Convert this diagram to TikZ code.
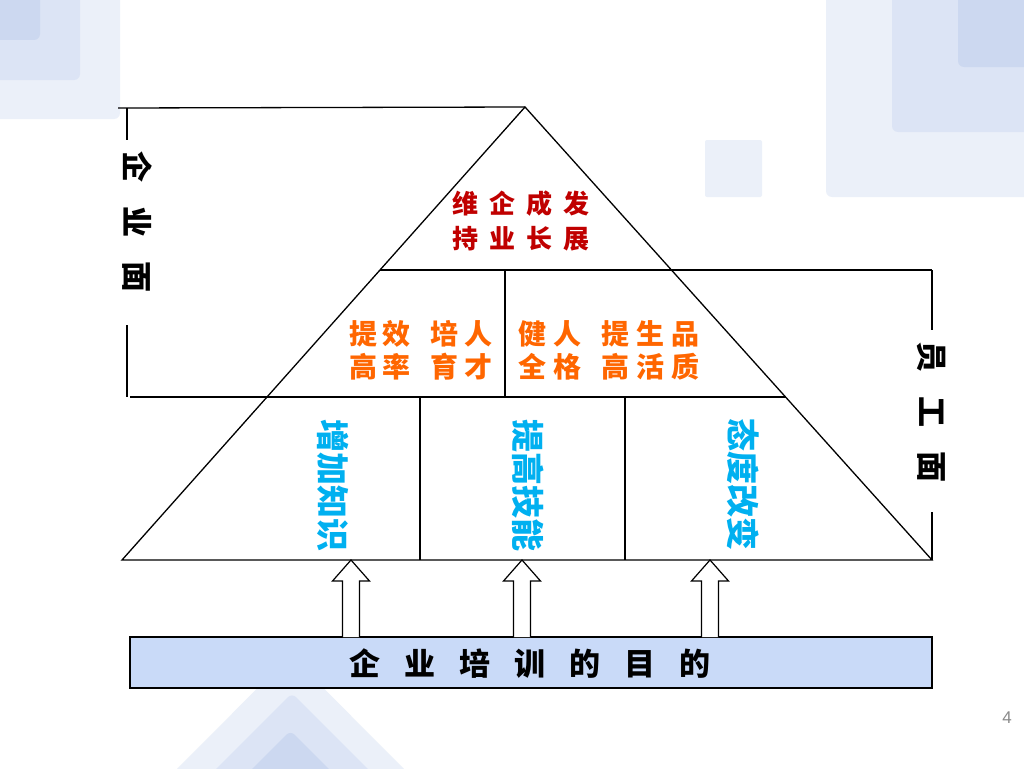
\documentclass[tikz,border=0pt]{standalone}
\usepackage{fontspec}
\newfontfamily\cjk{Noto Sans CJK SC}
\newfontfamily\pnfont{Liberation Sans}
\definecolor{cRed}{HTML}{C00000}
\definecolor{cOrange}{HTML}{FF6600}
\definecolor{cBlue}{HTML}{00B0F0}
\definecolor{cBox}{HTML}{C9DAF8}
\definecolor{bgA}{HTML}{EBF0F9}
\definecolor{bgB}{HTML}{DCE4F5}
\definecolor{bgC}{HTML}{CCD8F0}
\definecolor{pgGray}{HTML}{8A8A8A}
\begin{document}
\begin{tikzpicture}[x=1pt,y=-1pt,
  ln/.style={line width=1.3pt, black},
  deco/.style={draw=none, rounded corners=6pt},
  redtxt/.style={text=cRed, font=\cjk\bfseries\fontsize{26}{35}\selectfont, align=center, inner sep=0pt},
  orgtxt/.style={text=cOrange, font=\cjk\bfseries\fontsize{28}{33}\selectfont, align=center, inner sep=0pt},
  bluetxt/.style={text=cBlue, font=\cjk\bfseries\fontsize{33}{33}\selectfont, rotate=-90, inner sep=0pt},
  sidetxt/.style={text=black, font=\cjk\bfseries\fontsize{31}{31}\selectfont, rotate=-90, inner sep=0pt},
  boxtxt/.style={text=black, font=\cjk\bfseries\fontsize{31}{31}\selectfont, inner sep=0pt},
  hollow/.style={draw=black, line width=1.2pt, fill=white}
]
\useasboundingbox (0,0) rectangle (1024,768);
\fill[white] (0,0) rectangle (1024,768);

% background decorations
\fill[bgA, deco] (-10,-10) rectangle (120,119);
\fill[bgB, deco] (-10,-10) rectangle (80,80);
\fill[bgC, deco] (-10,-10) rectangle (40,40);
\fill[bgA, deco] (826,-10) rectangle (1034,197);
\fill[bgB, deco] (892,-10) rectangle (1034,132);
\fill[bgC, deco] (958,-10) rectangle (1034,67);
\fill[bgA, rounded corners=2pt] (705,140) rectangle (762,197);
\fill[bgA, rounded corners=6pt] (290.5,655) -- (415,780) -- (166,780) -- cycle;
\fill[bgB, rounded corners=6pt] (292,693) -- (380,781) -- (204,781) -- cycle;
\fill[bgC, rounded corners=6pt] (290.5,730.5) -- (341,781) -- (240,781) -- cycle;

% key points
\coordinate (apex) at (525,107);
\coordinate (bl) at (122,560);
\coordinate (br) at (932,560);
\coordinate (l1) at (380,270);
\coordinate (r1) at (671.4,270);
\coordinate (l2) at (267,397);
\coordinate (r2) at (785.5,397);

% triangle and rows
\draw[ln] (apex) -- (bl) -- (br) -- cycle;
\draw[ln] (l1) -- (932,270);
\draw[ln] (130,397) -- (r2);
\draw[ln] (505,270) -- (505,397);
\draw[ln] (420,397) -- (420,560);
\draw[ln] (625,397) -- (625,560);

% left bracket
\draw[ln] (118,108) -- (apex);
\draw[ln] (127,108) -- (127,140);
\draw[ln] (127,325) -- (127,397);
% right bracket
\draw[ln] (932,270) -- (932,330);
\draw[ln] (932,512) -- (br);

% texts
\node[redtxt] (top) at (521,221.5) {维\hspace{11pt}企\hspace{11pt}成\hspace{11pt}发\\持\hspace{11pt}业\hspace{11pt}长\hspace{11pt}展};
\node[orgtxt] (midL) at (421,350.5) {提\hspace{6pt}效\hspace{20pt}培\hspace{6pt}人\\高\hspace{6pt}率\hspace{20pt}育\hspace{6pt}才};
\node[orgtxt] (midR) at (608.5,350.5) {健\hspace{7pt}人\hspace{20pt}提\hspace{7pt}生\hspace{7pt}品\\全\hspace{7pt}格\hspace{20pt}高\hspace{7pt}活\hspace{7pt}质};
\node[bluetxt] (b1) at (333,485) {增加知识};
\node[bluetxt] (b2) at (528,485) {提高技能};
\node[bluetxt] (b3) at (743,484) {态度改变};
\node[sidetxt] (sideL) at (137,222) {企\hspace{24pt}业\hspace{24pt}面};
\node[sidetxt] (sideR) at (931,412) {员\hspace{24pt}工\hspace{24pt}面};

% bottom box
\node[draw=black, line width=1.5pt, fill=cBox, minimum width=802pt, minimum height=51pt, inner sep=0pt] (goal) at (531,662.5) {};
\node[boxtxt] (goaltxt) at (530,664) {企\hspace{24pt}业\hspace{24pt}培\hspace{24pt}训\hspace{24pt}的\hspace{24pt}目\hspace{24pt}的};

% hollow arrows
\foreach \cx/\nm in {351/a1, 522/a2, 710/a3}{
  \coordinate (\nm) at (\cx,560);
  \draw[hollow] (\cx-8.5,637) -- (\cx-8.5,581) -- (\cx-18.5,581) -- (\nm) -- (\cx+18.5,581) -- (\cx+8.5,581) -- (\cx+8.5,637);
}

% page number
\node[text=pgGray, font=\pnfont\fontsize{17}{17}\selectfont, inner sep=0pt] (pg) at (1007,718) {4};
\end{tikzpicture}
\end{document}
